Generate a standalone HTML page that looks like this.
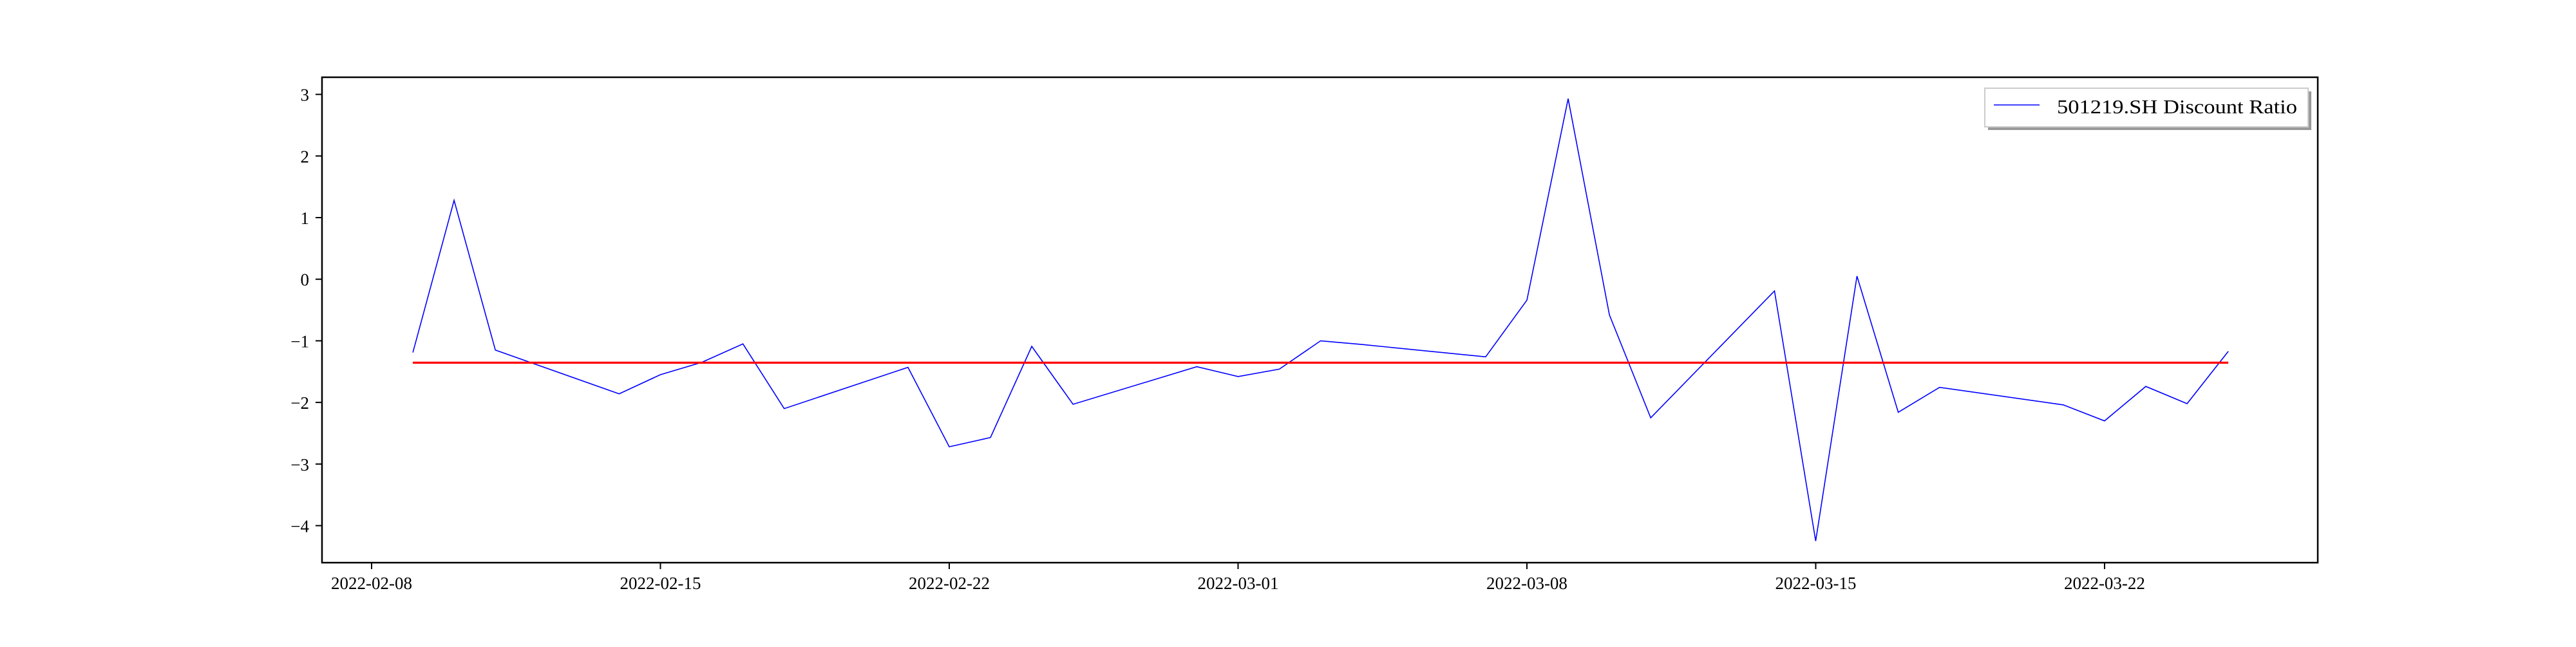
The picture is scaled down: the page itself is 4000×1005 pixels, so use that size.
<!DOCTYPE html>
<html><head><meta charset="utf-8"><style>
body{margin:0;background:#fff;width:4000px;height:1000px;overflow:hidden}
svg text{font-family:"Liberation Serif",serif;fill:#000}
</style></head><body>
<svg id="chart" width="4000" height="1000">
</svg>
<script>
const dates=["2022-02-09","2022-02-10","2022-02-11","2022-02-14","2022-02-15","2022-02-16","2022-02-17","2022-02-18","2022-02-21","2022-02-22","2022-02-23","2022-02-24","2022-02-25","2022-02-28","2022-03-01","2022-03-02","2022-03-03","2022-03-04","2022-03-07","2022-03-08","2022-03-09","2022-03-10","2022-03-11","2022-03-14","2022-03-15","2022-03-16","2022-03-17","2022-03-18","2022-03-21","2022-03-22","2022-03-23","2022-03-24","2022-03-25"];
const ratios=[-1.19,1.28,-1.15,-1.86,-1.55,-1.35,-1.05,-2.10,-1.43,-2.72,-2.57,-1.09,-2.03,-1.42,-1.58,-1.46,-1.00,-1.06,-1.26,-0.34,2.93,-0.58,-2.25,-0.19,-4.25,0.05,-2.16,-1.755,-2.04,-2.30,-1.74,-2.02,-1.17];
const meanValue=[-1.355];
const xTicks=["2022-02-08","2022-02-15","2022-02-22","2022-03-01","2022-03-08","2022-03-15","2022-03-22"];
const yTicks=[3,2,1,0,-1,-2,-3,-4];
const legendLabel=["501219.SH Discount Ratio"];

const NS="http://www.w3.org/2000/svg";
const svg=document.getElementById('chart');
const L=500,R=3599,T=120,B=874;
const day0=Date.UTC(2022,1,8);
function dayOf(s){const p=s.split('-');return (Date.UTC(+p[0],+p[1]-1,+p[2])-day0)/86400000;}
function xs(s){return 577+dayOf(s)*64.07;}
function ys(v){return 433.7-v*95.7;}
function mk(tag,attrs){const e=document.createElementNS(NS,tag);for(const k in attrs)e.setAttribute(k,attrs[k]);svg.appendChild(e);return e;}

let d=dates.map((s,i)=>(i?'L':'M')+xs(s).toFixed(1)+' '+ys(ratios[i]).toFixed(1)).join(' ');
const line=mk('path',{d:d,fill:'none',stroke:'#0000ff','stroke-width':1.6});


const mean=mk('line',{x1:xs(dates[0]),x2:xs(dates[dates.length-1]),y1:ys(meanValue[0]),y2:ys(meanValue[0]),stroke:'#ff0000','stroke-width':3.2});



const frame=mk('rect',{x:L,y:T,width:R-L,height:B-T,fill:'none',stroke:'#000','stroke-width':2.5});



yTicks.forEach(v=>{
  const y=ys(v);
  const t=mk('line',{x1:L-10,x2:L,y1:y,y2:y,stroke:'#000','stroke-width':2});
  
  
  const tx=mk('text',{x:L-20,y:y+10,'text-anchor':'end','font-size':27});
  tx.textContent=(v<0?'\u2212'+(-v):String(v));
  
  
});
xTicks.forEach(s=>{
  const x=xs(s);
  const t=mk('line',{x1:x,x2:x,y1:B,y2:B+10,stroke:'#000','stroke-width':2});
  
  
  const tx=mk('text',{x:x,y:915,'text-anchor':'middle','font-size':27});
  tx.textContent=s;
  
  
});

const sh=mk('rect',{x:3087,y:142,width:502,height:60,fill:'#999'});


const lb=mk('rect',{x:3082,y:137,width:502,height:60,fill:'#fff',stroke:'#ccc','stroke-width':2});


const ll=mk('line',{x1:3096,x2:3167,y1:163,y2:163,stroke:'#0000ff','stroke-width':1.6});


const lt=mk('text',{x:3194,y:176,'font-size':31,textLength:373,lengthAdjust:'spacingAndGlyphs'});
lt.textContent=legendLabel[0];


</script>
</body></html>
